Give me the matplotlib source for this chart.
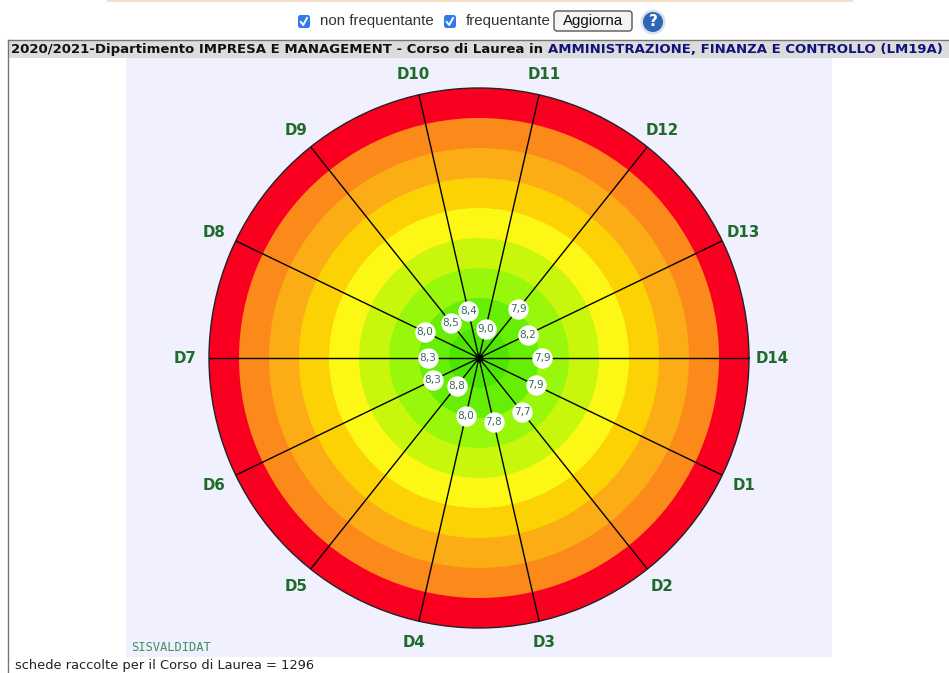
import numpy as np
import matplotlib
matplotlib.use("Agg")
import matplotlib.pyplot as plt
from matplotlib.patches import Rectangle, FancyBboxPatch, Circle

W, H = 949, 673
dim_labels = ["D14", "D1", "D2", "D3", "D4", "D5", "D6", "D7", "D8", "D9", "D10", "D11", "D12", "D13"]
dim_values = [7.9, 7.9, 7.7, 7.8, 8.0, 8.8, 8.3, 8.3, 8.0, 8.5, 8.4, 9.0, 7.9, 8.2]
ring_levels = [1, 2, 3, 4, 5, 6, 7, 8, 9]
ring_colors = ["#FA0020", "#FB8A1A", "#FCAC14", "#FDD204", "#FCF714",
               "#C8F70C", "#98F70A", "#66EE05", "#4CE600"]
title_left = "2020/2021-Dipartimento IMPRESA E MANAGEMENT - Corso di Laurea in "
title_right = "AMMINISTRAZIONE, FINANZA E CONTROLLO (LM19A)"
footer = "schede raccolte per il Corso di Laurea = 1296"

fig = plt.figure(figsize=(W / 100, H / 100), dpi=100, facecolor="white")

# page layer in pixel coordinates
bg = fig.add_axes([0, 0, 1, 1])
bg.set_xlim(0, W); bg.set_ylim(H, 0); bg.axis("off")
bg.add_patch(Rectangle((107, 0), 746, 1.5, color="#F8DFC8", lw=0))
bg.add_patch(Rectangle((126, 58), 706, 599, color="#F0F0FF", lw=0))
bg.add_patch(Rectangle((8, 41), 941, 17, color="#DCDCDC", lw=0))
bg.plot([8, 8], [40, 673], color="#777777", lw=1)
bg.plot([8, 949], [40, 40], color="#777777", lw=1)

for x in (304, 450):
    bg.add_patch(FancyBboxPatch((x - 6, 15), 12, 13, boxstyle="round,pad=0,rounding_size=2.5",
                                fc="#2F7BEA", ec="none"))
    bg.plot([x - 3.2, x - 0.8, x + 3], [22, 25, 18], color="white", lw=1.4)
bg.text(320, 21.5, "non frequentante", fontsize=10.8, family="Liberation Sans", color="#333333", va="center")
bg.text(466, 21.5, "frequentante", fontsize=10.9, family="Liberation Sans", color="#333333", va="center")
bg.add_patch(FancyBboxPatch((554, 11), 78, 20, boxstyle="round,pad=0,rounding_size=3",
                            fc="#F4F4F4", ec="#555555", lw=1))
bg.text(593, 21.5, "Aggiorna", fontsize=10.8, family="Liberation Sans", color="#111111", ha="center", va="center")
bg.add_patch(Circle((653, 22), 12.5, fc="#D8E2EE", ec="none"))
bg.add_patch(Circle((653, 22), 10, fc="#2F66B8", ec="none"))
bg.text(653, 22, "?", fontsize=11, weight="bold", color="white", ha="center", va="center")

t1 = bg.text(11, 49.5, title_left, fontsize=9.57, weight="bold", family="DejaVu Sans",
             color="#111111", va="center")
bg.annotate(title_right, xy=(1, 0.5), xycoords=t1, fontsize=9.57, weight="bold", family="DejaVu Sans",
            color="#12127A", va="center", ha="left")
bg.text(131, 647.5, "SISVALDIDAT", fontsize=8.7, family="DejaVu Sans Mono", color="#3F8F5F", va="center")
bg.text(15, 666, footer, fontsize=9.4, family="DejaVu Sans", color="#222222", va="center")

# radar: r = 10 - value
cx, cy, R = 479, 358, 270
rmax = 9
ax = fig.add_axes([(cx - R) / W, 1 - (cy + R) / H, 2 * R / W, 2 * R / H], projection="polar")
ax.patch.set_alpha(0)
ax.set_theta_zero_location("E")
ax.set_theta_direction(1)
ax.set_rlim(0, rmax)
ax.set_xticks([]); ax.set_yticks([])
ax.grid(False)
ax.spines["polar"].set_linewidth(1)
ax.spines["polar"].set_color("#222222")

for lev, col in zip(ring_levels, ring_colors):
    ax.add_patch(Circle((0.5, 0.5), (10 - lev) / rmax / 2, transform=ax.transAxes,
                        fc=col, ec="none", zorder=1))

thetas = np.deg2rad(-np.arange(len(dim_labels)) * 360 / len(dim_labels))
for th, lab, val in zip(thetas, dim_labels, dim_values):
    ax.plot([th, th], [0, rmax], color="black", lw=1, zorder=2)
    ax.annotate(lab, xy=(th, 9.72), xytext=(1.5 * np.cos(th), -0.5), textcoords="offset points",
                fontsize=10.8, weight="bold", color="#1E6B2A", family="DejaVu Sans",
                ha="center", va="center", annotation_clip=False, zorder=5)
    r = 10 - val
    ax.scatter([th], [r], s=215, color="white", linewidth=0, zorder=3)
    ax.text(th, r, f"{val:.1f}".replace(".", ","), fontsize=7.6, color="#3A6A5A",
            ha="center", va="center", zorder=4)
ax.scatter([0], [0], s=22, color="black", zorder=5)

fig.savefig("out.png", dpi=100)
